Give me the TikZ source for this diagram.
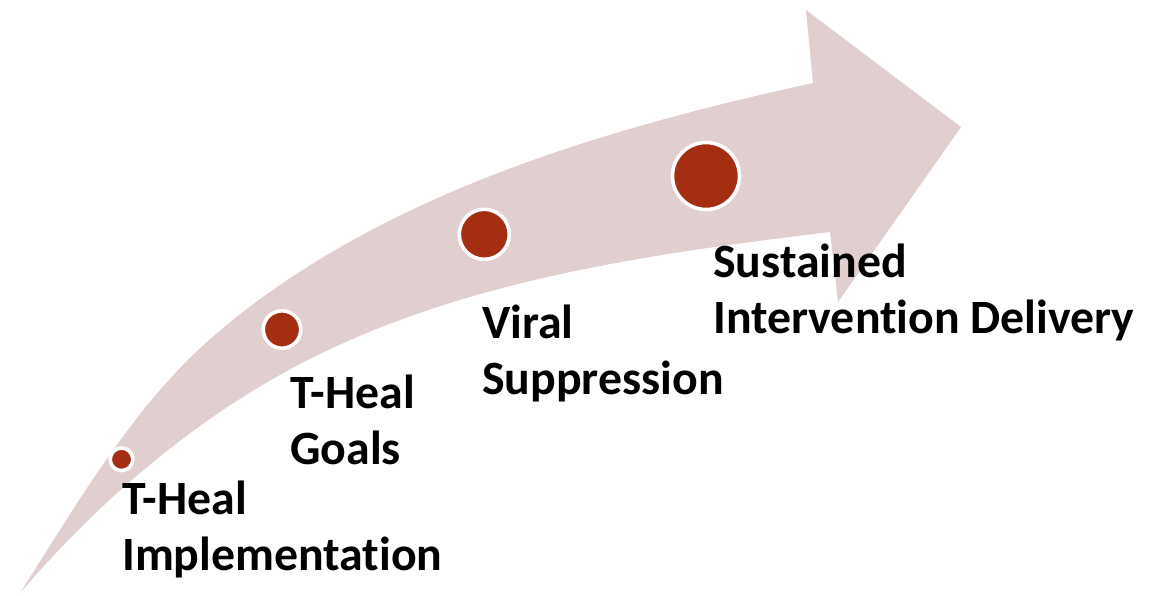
\documentclass[tikz,border=0pt]{standalone}
\usepackage{fontspec}
\setmainfont{Carlito}[Ligatures=NoCommon]
\definecolor{arrowpink}{RGB}{225,206,206}
\definecolor{dotred}{RGB}{165,46,17}
\tikzset{
  milestone/.style={circle, fill=dotred, draw=white, line width=0.09cm, inner sep=0pt},
  steplabel/.style={anchor=base west, align=left, inner sep=0pt,
                    font=\bfseries\fontsize{34}{39.4}\selectfont}
}
\begin{document}
\begin{tikzpicture}[x=0.025cm, y=-0.025cm]
      \useasboundingbox (0,0) rectangle (1155,595);

      % Draw curved arrow
      \fill[arrowpink] (20,593) .. controls (79,501) and (134,404) .. (217,333)
                   .. controls (381,194) and (603,129) .. (813,83)
                   -- (806,10) -- (961,127) -- (838,302) -- (830,232)
                   .. controls (649,254) and (461,280) .. (300,364)
                   .. controls (193,420) and (99,501) .. (20,593) -- cycle;

      % Draw milestones
      \node[milestone, minimum size=0.565cm] (impl) at (121.5,459.3) {};
      \node[milestone, minimum size=0.935cm] (goals) at (282,329.5) {};
      \node[milestone, minimum size=1.25cm] (viral) at (484.3,234.3) {};
      \node[milestone, minimum size=1.675cm] (sustain) at (706,176) {};

      % Labels (anchored at the baseline of the last line)
      \node[steplabel] (impltext) at (122,570) {T-Heal\\Implementation};
      \node[steplabel] (goalstext) at (290,464) {T-Heal\\Goals};
      \node[steplabel] (viraltext) at (482,394) {Viral\\Suppression};
      \node[steplabel] (sustaintext) at (713,333) {Sustained\\Intervention Delivery};

  \end{tikzpicture}
\end{document}
